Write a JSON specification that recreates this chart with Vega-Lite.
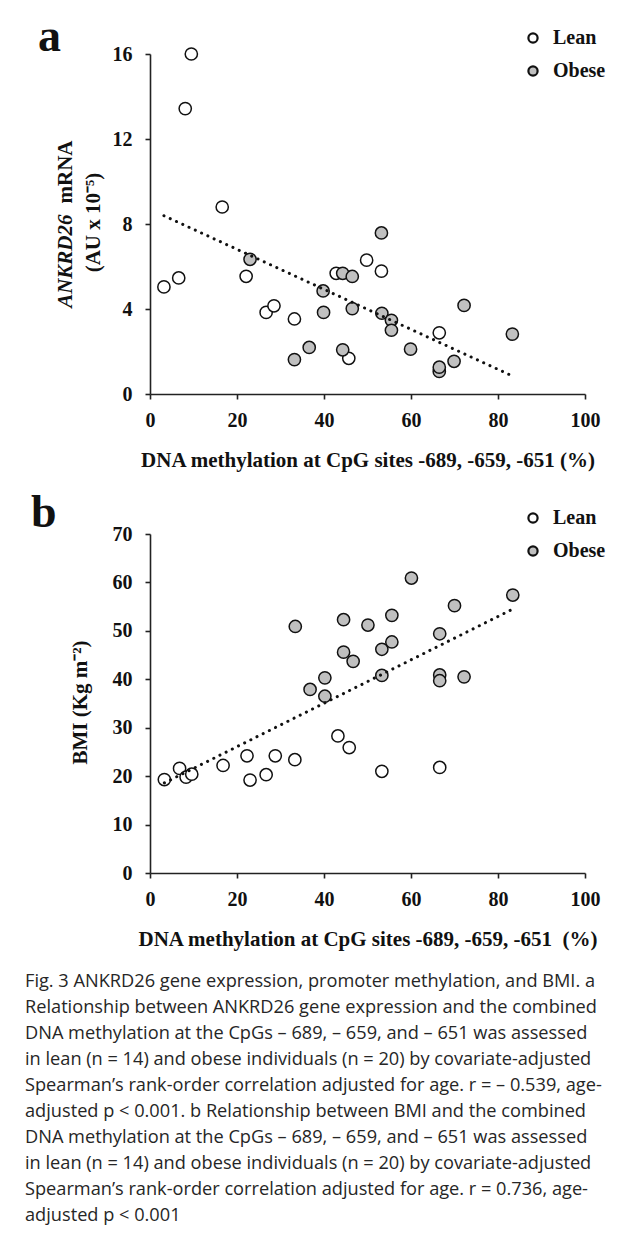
{
  "$schema": "https://vega.github.io/schema/vega-lite/v6.json",
  "background": "white",
  "padding": {"left": 25, "top": 14, "right": 0, "bottom": 0},
  "config": {
    "font": "Liberation Serif",
    "view": {"stroke": null},
    "axis": {
      "grid": false,
      "labelFont": "Liberation Serif", "labelFontWeight": "bold", "labelFontSize": 20, "labelColor": "#111",
      "titleFont": "Liberation Serif", "titleFontWeight": "bold", "titleFontSize": 21, "titleColor": "#111",
      "domainColor": "#222", "domainWidth": 1.6, "tickColor": "#222", "tickWidth": 1.6, "tickSize": 5
    },
    "axisX": {"labelPadding": 11, "titlePadding": 19, "labelFlush": false},
    "axisY": {"labelPadding": 13},
    "legend": {
      "title": null, "orient": "none", "padding": 0,
      "labelFont": "Liberation Serif", "labelFontWeight": "bold", "labelFontSize": 20, "labelColor": "#111",
      "symbolType": "circle", "symbolSize": 85, "symbolStrokeWidth": 2.2, "symbolStrokeColor": "#111",
      "rowPadding": 13, "labelOffset": 10
    },
    "title": {"font": "Liberation Serif", "fontWeight": "bold", "fontSize": 46, "color": "#111"},
    "concat": {"spacing": 20}
  },
  "resolve": {"scale": {"fill": "independent"}, "legend": {"fill": "independent"}},
  "datasets": {
    "panelA": [
      {"group": "Lean", "methylation": 3.2, "mrna": 5.04},
      {"group": "Lean", "methylation": 6.6, "mrna": 5.46},
      {"group": "Lean", "methylation": 8.1, "mrna": 13.43},
      {"group": "Lean", "methylation": 9.5, "mrna": 16.0},
      {"group": "Lean", "methylation": 16.6, "mrna": 8.8},
      {"group": "Lean", "methylation": 22.1, "mrna": 5.54},
      {"group": "Lean", "methylation": 26.7, "mrna": 3.84},
      {"group": "Lean", "methylation": 28.5, "mrna": 4.15},
      {"group": "Lean", "methylation": 33.2, "mrna": 3.53},
      {"group": "Lean", "methylation": 42.8, "mrna": 5.68},
      {"group": "Lean", "methylation": 45.7, "mrna": 1.68},
      {"group": "Lean", "methylation": 49.8, "mrna": 6.3},
      {"group": "Lean", "methylation": 53.2, "mrna": 5.78},
      {"group": "Lean", "methylation": 66.5, "mrna": 2.88},
      {"group": "Obese", "methylation": 23.0, "mrna": 6.34},
      {"group": "Obese", "methylation": 33.2, "mrna": 1.62},
      {"group": "Obese", "methylation": 36.6, "mrna": 2.19},
      {"group": "Obese", "methylation": 39.8, "mrna": 4.85},
      {"group": "Obese", "methylation": 39.9, "mrna": 3.84},
      {"group": "Obese", "methylation": 44.3, "mrna": 5.68},
      {"group": "Obese", "methylation": 44.3, "mrna": 2.08},
      {"group": "Obese", "methylation": 46.5, "mrna": 5.53},
      {"group": "Obese", "methylation": 46.5, "mrna": 4.02},
      {"group": "Obese", "methylation": 53.2, "mrna": 7.58},
      {"group": "Obese", "methylation": 53.3, "mrna": 3.8},
      {"group": "Obese", "methylation": 55.5, "mrna": 3.47},
      {"group": "Obese", "methylation": 55.5, "mrna": 3.0},
      {"group": "Obese", "methylation": 59.9, "mrna": 2.11},
      {"group": "Obese", "methylation": 66.5, "mrna": 1.06},
      {"group": "Obese", "methylation": 66.5, "mrna": 1.26},
      {"group": "Obese", "methylation": 69.9, "mrna": 1.54},
      {"group": "Obese", "methylation": 72.2, "mrna": 4.17},
      {"group": "Obese", "methylation": 83.3, "mrna": 2.82}
    ],
    "trendA": [
      {"methylation": 3.2, "mrna": 8.39},
      {"methylation": 83.3, "mrna": 0.85}
    ],
    "panelB": [
      {"group": "Lean", "methylation": 3.3, "bmi": 19.3},
      {"group": "Lean", "methylation": 6.8, "bmi": 21.6},
      {"group": "Lean", "methylation": 8.3, "bmi": 19.8},
      {"group": "Lean", "methylation": 9.6, "bmi": 20.4},
      {"group": "Lean", "methylation": 16.8, "bmi": 22.2},
      {"group": "Lean", "methylation": 22.3, "bmi": 24.2},
      {"group": "Lean", "methylation": 23.0, "bmi": 19.2},
      {"group": "Lean", "methylation": 26.7, "bmi": 20.3},
      {"group": "Lean", "methylation": 28.8, "bmi": 24.2},
      {"group": "Lean", "methylation": 33.3, "bmi": 23.4},
      {"group": "Lean", "methylation": 43.2, "bmi": 28.3},
      {"group": "Lean", "methylation": 45.8, "bmi": 25.9},
      {"group": "Lean", "methylation": 53.3, "bmi": 21.0},
      {"group": "Lean", "methylation": 66.6, "bmi": 21.8},
      {"group": "Obese", "methylation": 33.4, "bmi": 50.9},
      {"group": "Obese", "methylation": 36.8, "bmi": 37.9},
      {"group": "Obese", "methylation": 40.2, "bmi": 40.3},
      {"group": "Obese", "methylation": 40.2, "bmi": 36.5},
      {"group": "Obese", "methylation": 44.5, "bmi": 52.3},
      {"group": "Obese", "methylation": 44.5, "bmi": 45.6},
      {"group": "Obese", "methylation": 46.7, "bmi": 43.7},
      {"group": "Obese", "methylation": 50.1, "bmi": 51.2},
      {"group": "Obese", "methylation": 53.3, "bmi": 46.2},
      {"group": "Obese", "methylation": 53.3, "bmi": 40.8},
      {"group": "Obese", "methylation": 55.6, "bmi": 53.2},
      {"group": "Obese", "methylation": 55.6, "bmi": 47.7},
      {"group": "Obese", "methylation": 60.1, "bmi": 60.9},
      {"group": "Obese", "methylation": 66.6, "bmi": 49.4},
      {"group": "Obese", "methylation": 66.6, "bmi": 40.9},
      {"group": "Obese", "methylation": 66.6, "bmi": 39.7},
      {"group": "Obese", "methylation": 70.0, "bmi": 55.2},
      {"group": "Obese", "methylation": 72.2, "bmi": 40.5},
      {"group": "Obese", "methylation": 83.4, "bmi": 57.4}
    ],
    "trendB": [
      {"methylation": 3.3, "bmi": 18.6},
      {"methylation": 83.4, "bmi": 54.5}
    ],
    "caption": [
      {"line": 1, "text": "Fig. 3 ANKRD26 gene expression, promoter methylation, and BMI. a"},
      {"line": 2, "text": "Relationship between ANKRD26 gene expression and the combined"},
      {"line": 3, "text": "DNA methylation at the CpGs – 689, – 659, and – 651 was assessed"},
      {"line": 4, "text": "in lean (n = 14) and obese individuals (n = 20) by covariate-adjusted"},
      {"line": 5, "text": "Spearman’s rank-order correlation adjusted for age. r = – 0.539, age-"},
      {"line": 6, "text": "adjusted p < 0.001. b Relationship between BMI and the combined"},
      {"line": 7, "text": "DNA methylation at the CpGs – 689, – 659, and – 651 was assessed"},
      {"line": 8, "text": "in lean (n = 14) and obese individuals (n = 20) by covariate-adjusted"},
      {"line": 9, "text": "Spearman’s rank-order correlation adjusted for age. r = 0.736, age-"},
      {"line": 10, "text": "adjusted p < 0.001"}
    ]
  },
  "vconcat": [
    {
      "width": 435, "height": 340,
      "title": {"text": "a", "anchor": "start", "frame": "group", "dx": -112, "dy": 37},
      "resolve": {"axis": {"y": "independent"}},
      "layer": [
        {
          "data": {"name": "panelA"},
          "mark": {"type": "point", "shape": "circle", "filled": true, "size": 150, "stroke": "#111", "strokeWidth": 1.5, "opacity": 1},
          "encoding": {
            "x": {"field": "methylation", "type": "quantitative", "scale": {"domain": [0, 100], "nice": false},
                  "axis": {"values": [0, 20, 40, 60, 80, 100], "title": "DNA methylation at CpG sites -689, -659, -651 (%)"}},
            "y": {"field": "mrna", "type": "quantitative", "scale": {"domain": [0, 16], "nice": false},
                  "axis": {"orient": "left", "values": [0, 4, 8, 12, 16], "title": "(AU x 10⁻⁵)", "titleX": -57, "titleY": 168, "titleAngle": -90, "titleAlign": "center", "titleBaseline": "middle"}},
            "fill": {"field": "group", "type": "nominal", "scale": {"domain": ["Lean", "Obese"], "range": ["#ffffff", "#c0c0c0"]},
                     "legend": {"legendX": 373, "legendY": -26}}
          }
        },
        {
          "data": {"name": "trendA"},
          "mark": {"type": "point", "opacity": 0},
          "encoding": {
            "x": {"field": "methylation", "type": "quantitative"},
            "y": {"field": "mrna", "type": "quantitative",
                  "axis": {"orient": "left", "labels": false, "ticks": false, "domain": false, "title": "mRNA", "titleX": -85, "titleY": 149, "titleAngle": -90, "titleAlign": "left", "titleBaseline": "middle"}}
          }
        },
        {
          "data": {"name": "trendA"},
          "mark": {"type": "line", "color": "#111", "strokeWidth": 3, "strokeDash": [0.1, 6.8], "strokeCap": "round"},
          "encoding": {
            "x": {"field": "methylation", "type": "quantitative"},
            "y": {"field": "mrna", "type": "quantitative",
                  "axis": {"orient": "left", "labels": false, "ticks": false, "domain": false, "title": "ANKRD26", "titleFontStyle": "italic", "titleX": -85, "titleY": 160, "titleAngle": -90, "titleAlign": "right", "titleBaseline": "middle"}}
          }
        }
      ]
    },
    {
      "width": 435, "height": 339,
      "title": {"text": "b", "anchor": "start", "frame": "group", "dx": -119, "dy": 33},
      "layer": [
        {
          "data": {"name": "panelB"},
          "mark": {"type": "point", "shape": "circle", "filled": true, "size": 150, "stroke": "#111", "strokeWidth": 1.5, "opacity": 1},
          "encoding": {
            "x": {"field": "methylation", "type": "quantitative", "scale": {"domain": [0, 100], "nice": false},
                  "axis": {"values": [0, 20, 40, 60, 80, 100], "title": "DNA methylation at CpG sites -689, -659, -651\u00a0 (%)"}},
            "y": {"field": "bmi", "type": "quantitative", "scale": {"domain": [0, 70], "nice": false},
                  "axis": {"values": [0, 10, 20, 30, 40, 50, 60, 70], "title": "BMI (Kg m⁻²)", "titleX": -70, "titleY": 168, "titleAngle": -90, "titleAlign": "center", "titleBaseline": "middle"}},
            "fill": {"field": "group", "type": "nominal", "scale": {"domain": ["Lean", "Obese"], "range": ["#ffffff", "#c0c0c0"]},
                     "legend": {"legendX": 373, "legendY": -26}}
          }
        },
        {
          "data": {"name": "trendB"},
          "mark": {"type": "line", "color": "#111", "strokeWidth": 3, "strokeDash": [0.1, 6.8], "strokeCap": "round"},
          "encoding": {
            "x": {"field": "methylation", "type": "quantitative"},
            "y": {"field": "bmi", "type": "quantitative"}
          }
        }
      ]
    },
    {
      "width": 435, "height": {"step": 26},
      "data": {"name": "caption"},
      "mark": {"type": "text", "align": "left", "baseline": "middle", "font": "Open Sans", "fontSize": 18.2, "color": "#262626", "dx": -125},
      "encoding": {
        "x": {"datum": 0, "type": "quantitative", "scale": {"domain": [0, 1]}, "axis": null},
        "y": {"field": "line", "type": "ordinal", "axis": null},
        "text": {"field": "text", "type": "nominal"}
      }
    }
  ]
}
